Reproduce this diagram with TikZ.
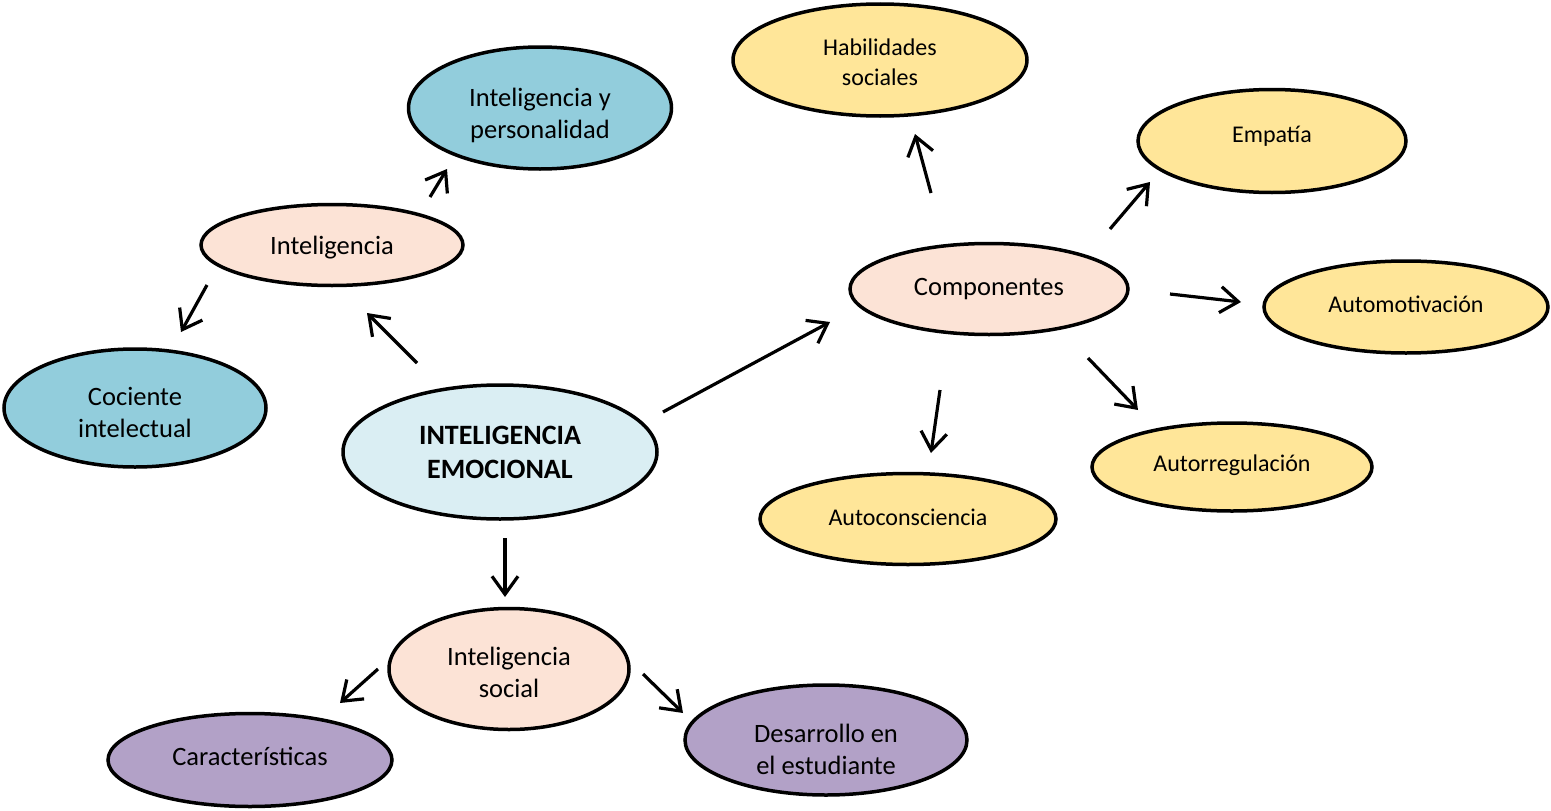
\documentclass[tikz,border=0pt]{standalone}
\usepackage{fontspec}
\setmainfont{Carlito}
\usetikzlibrary{shapes.geometric,arrows.meta}
\definecolor{cblue}{HTML}{92CDDC}
\definecolor{cpeach}{HTML}{FCE3D6}
\definecolor{clight}{HTML}{DAEEF3}
\definecolor{cyellow}{HTML}{FFE699}
\definecolor{cpurple}{HTML}{B2A1C7}
\tikzset{
  oval/.style={ellipse, draw=black, line width=3.5pt, inner sep=0pt},
  bigtxt/.style={font=\fontsize{26.5}{32}\selectfont, align=center, inner sep=0pt},
  smalltxt/.style={font=\fontsize{24}{30}\selectfont, align=center, inner sep=0pt},
  boldtxt/.style={font=\fontsize{28}{34}\selectfont\bfseries, align=center, inner sep=0pt},
  arr/.style={line width=3.2pt, -{Straight Barb[length=18pt,width=26pt,line width=3.2pt]}},
}
\begin{document}
\begin{tikzpicture}[x=1pt,y=-1pt]
\useasboundingbox (0,0) rectangle (1551,811);
% ovals
\node[oval,fill=cblue,minimum width=263pt,minimum height=122pt] (ip) at (540,108) {};
\node[oval,fill=cpeach,minimum width=262pt,minimum height=81pt] (int) at (332,245) {};
\node[oval,fill=cblue,minimum width=262pt,minimum height=118pt] (ci) at (135,408) {};
\node[oval,fill=clight,minimum width=314pt,minimum height=134pt] (ei) at (500,452) {};
\node[oval,fill=cpeach,minimum width=240pt,minimum height=121pt] (is) at (509,669) {};
\node[oval,fill=cpurple,minimum width=284pt,minimum height=93pt] (car) at (250,760) {};
\node[oval,fill=cpurple,minimum width=282pt,minimum height=110pt] (des) at (826,740) {};
\node[oval,fill=cyellow,minimum width=294pt,minimum height=112pt] (hab) at (880,60) {};
\node[oval,fill=cyellow,minimum width=268pt,minimum height=103pt] (emp) at (1272,141) {};
\node[oval,fill=cpeach,minimum width=278pt,minimum height=91pt] (comp) at (989,289) {};
\node[oval,fill=cyellow,minimum width=284pt,minimum height=92pt] (aut) at (1406,307) {};
\node[oval,fill=cyellow,minimum width=280pt,minimum height=88pt] (areg) at (1232,467) {};
\node[oval,fill=cyellow,minimum width=296pt,minimum height=91pt] (acon) at (908,519) {};
% texts
\path (ip.center) ++(0,7) node[bigtxt] (ip-t) {Inteligencia y\\personalidad};
\path (int.center) ++(0,3) node[bigtxt] (int-t) {Inteligencia};
\path (ci.center) ++(0,4) node[bigtxt] (ci-t) {Cociente\\intelectual};
\path (ei.center) ++(0,0) node[boldtxt] (ei-t) {INTELIGENCIA\\EMOCIONAL};
\path (is.center) ++(0,3) node[bigtxt] (is-t) {Inteligencia\\social};
\path (car.center) ++(0,-4) node[bigtxt] (car-t) {Características};
\path (des.center) ++(0,9) node[bigtxt] (des-t) {Desarrollo en\\el estudiante};
\path (hab.center) ++(0,2) node[smalltxt] (hab-t) {Habilidades\\sociales};
\path (emp.center) ++(0,-5) node[smalltxt] (emp-t) {Empatía};
\path (comp.center) ++(0,0) node[bigtxt] (comp-t) {Componentes};
\path (aut.center) ++(0,-3) node[smalltxt] (aut-t) {Automotivación};
\path (areg.center) ++(0,-2) node[smalltxt] (areg-t) {Autorregulación};
\path (acon.center) ++(0,-2) node[smalltxt] (acon-t) {Autoconsciencia};
% connector end points
\coordinate (ei-int-s) at (417,363);  \coordinate (ei-int-e) at (367,313);
\coordinate (int-ip-s) at (430,197);  \coordinate (int-ip-e) at (447,169);
\coordinate (int-ci-s) at (207,285);  \coordinate (int-ci-e) at (181,332);
\coordinate (ei-comp-s) at (663,412); \coordinate (ei-comp-e) at (830,322);
\coordinate (ei-is-s) at (505,538);   \coordinate (ei-is-e) at (505,597);
\coordinate (is-car-s) at (378,669);  \coordinate (is-car-e) at (340,703);
\coordinate (is-des-s) at (643,674);  \coordinate (is-des-e) at (683,713);
\coordinate (comp-hab-s) at (931,193);  \coordinate (comp-hab-e) at (915,134);
\coordinate (comp-emp-s) at (1110,229); \coordinate (comp-emp-e) at (1150,182);
\coordinate (comp-aut-s) at (1170,294); \coordinate (comp-aut-e) at (1241,302);
\coordinate (comp-acon-s) at (940,390); \coordinate (comp-acon-e) at (931,453);
\coordinate (comp-areg-s) at (1088,358); \coordinate (comp-areg-e) at (1138,410);
% connectors
\draw[arr] (ei-int-s) -- (ei-int-e);
\draw[arr] (int-ip-s) -- (int-ip-e);
\draw[arr] (int-ci-s) -- (int-ci-e);
\draw[arr] (ei-comp-s) -- (ei-comp-e);
\draw[arr] (ei-is-s) -- (ei-is-e);
\draw[arr] (is-car-s) -- (is-car-e);
\draw[arr] (is-des-s) -- (is-des-e);
\draw[arr] (comp-hab-s) -- (comp-hab-e);
\draw[arr] (comp-emp-s) -- (comp-emp-e);
\draw[arr] (comp-aut-s) -- (comp-aut-e);
\draw[arr] (comp-acon-s) -- (comp-acon-e);
\draw[arr] (comp-areg-s) -- (comp-areg-e);
\end{tikzpicture}
\end{document}
